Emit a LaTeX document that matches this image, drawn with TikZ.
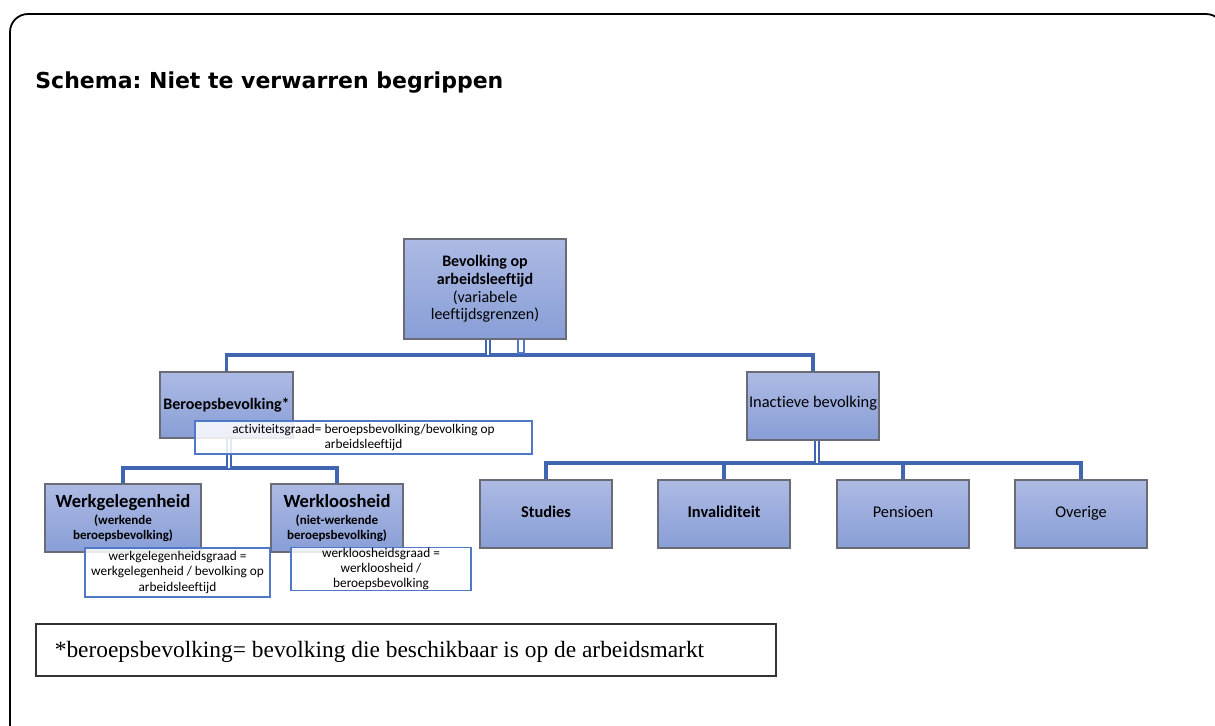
\documentclass[tikz,border=0pt]{standalone}
\usepackage{fontspec}
\setmainfont{Carlito}[Ligatures=NoCommon]
\newfontfamily\titlefont{DejaVu Sans}
\newfontfamily\notefont{Liberation Serif}
\frenchspacing
\definecolor{conncol}{RGB}{64,102,178}
\definecolor{boxtop}{RGB}{173,186,228}
\definecolor{boxbot}{RGB}{136,158,214}
\definecolor{boxedge}{RGB}{105,108,118}
\definecolor{noteedge}{RGB}{80,120,200}
\tikzset{
  bluebox/.style={draw=boxedge, line width=0.8pt, top color=boxtop, bottom color=boxbot,
    align=center, inner sep=1pt, font=\fontsize{8.2}{9.4}\selectfont},
  onebox/.style={bluebox, minimum width=66pt, minimum height=34pt, text height=6pt, text depth=3pt},
  formbox/.style={draw=noteedge, line width=0.6pt, fill=white, fill opacity=0.85, text opacity=1,
    align=center, inner sep=0pt, font=\fontsize{6.65}{7.7}\selectfont},
  conn/.style={draw=conncol, line width=1.6pt},
  dconn/.style={draw=conncol, line width=0.9pt, double=white, double distance=0.9pt},
}
\begin{document}
\begin{tikzpicture}[x=0.5pt,y=-0.5pt]
\useasboundingbox (0,0) rectangle (1215,725);
\clip (0,0) rectangle (1215,725);
% outer frame
\draw[line width=0.9pt, rounded corners=9pt] (10,740) -- (10,14) -- (1224,14) -- (1224,740);
% title
\node[anchor=base west, inner sep=0pt, font=\titlefont\bfseries\fontsize{11}{13}\selectfont] (title) at (35,88) {Schema: Niet te verwarren begrippen};

% bus coordinates
\coordinate (bus1) at (485,355);
\coordinate (bus2) at (229,468);
\coordinate (bus3) at (817,463);

% nodes
\node[onebox, text depth=4.5pt] (inact) at (813,406) {Inactieve bevolking};
\node[bluebox, minimum width=78pt, minimum height=34pt, font=\fontsize{6.5}{7.5}\selectfont\bfseries] (werkg) at (123,518)
    {{\fontsize{9.3}{10}\selectfont Werkgelegenheid}\\[1pt](werkende\\beroepsbevolking)};
\node[bluebox, minimum width=66pt, minimum height=34pt, font=\fontsize{6.5}{7.5}\selectfont\bfseries] (werkl) at (337,518)
    {{\fontsize{9.3}{10}\selectfont Werkloosheid}\\[1pt](niet-werkende\\beroepsbevolking)};
\node[onebox, font=\fontsize{8.2}{9.4}\selectfont\bfseries] (stud) at (546,514) {Studies};
\node[onebox, font=\fontsize{8.2}{9.4}\selectfont\bfseries] (inval) at (724,514) {Invaliditeit};
\node[onebox] (pens) at (903,514) {Pensioen};
\node[onebox] (over) at (1081,514) {Overige};

% connectors
\coordinate (rootS) at (488,339);
\coordinate (berN) at (226.5,372);
\coordinate (berS) at (229,438);
\draw[conn] (berN) -- (berN |- bus1) -- (inact.north |- bus1) -- (inact.north);
\draw[dconn] (rootS) -- (rootS |- bus1);
\draw[draw=noteedge, line width=0.6pt, fill=white] (518,338) rectangle (524,353);

\draw[conn] (werkg.north) -- (werkg.north |- bus2) -- (werkl.north |- bus2) -- (werkl.north);
\draw[dconn] (berS) -- (bus2);

\draw[conn] (stud.north) -- (stud.north |- bus3) -- (over.north |- bus3) -- (over.north);
\draw[conn] (inval.north) -- (inval.north |- bus3);
\draw[conn] (pens.north) -- (pens.north |- bus3);
\draw[dconn] (bus3 |- inact.south) -- (bus3);

% boxes over connectors
\node[bluebox, minimum width=81pt, minimum height=50pt, font=\fontsize{8}{8.9}\selectfont] (root) at (485,289)
    {\textbf{Bevolking op}\\\textbf{arbeidsleeftijd}\\(variabele\\leeftijdsgrenzen)};
\node[bluebox, minimum width=66.5pt, minimum height=33pt, font=\fontsize{8}{9}\selectfont\bfseries] (beroeps) at (226.5,405) {Beroepsbevolking*};

% formula boxes
\node[formbox, minimum width=168.5pt, minimum height=16.5pt] (act) at (363.5,437.5)
  {activiteitsgraad= beroepsbevolking/bevolking op\\arbeidsleeftijd};
\node[formbox, minimum width=92.5pt, minimum height=24.5pt] (wgg) at (177.5,572.5)
  {werkgelegenheidsgraad =\\werkgelegenheid / bevolking op\\arbeidsleeftijd};
\node[formbox, minimum width=90pt, minimum height=20.5pt] (wlg) at (381,569)
  {werkloosheidsgraad =\\werkloosheid /\\beroepsbevolking};

% footnote
\node[draw=black!80, line width=0.6pt, minimum width=370pt, minimum height=26pt, inner sep=0pt] (foot) at (406,650) {};
\node[anchor=west, inner sep=0pt, font=\notefont\fontsize{11.7}{13}\selectfont] (foottext) at ([xshift=9.5pt,yshift=-1pt]foot.west)
  {*beroepsbevolking= bevolking die beschikbaar is op de arbeidsmarkt};
\end{tikzpicture}
\end{document}
